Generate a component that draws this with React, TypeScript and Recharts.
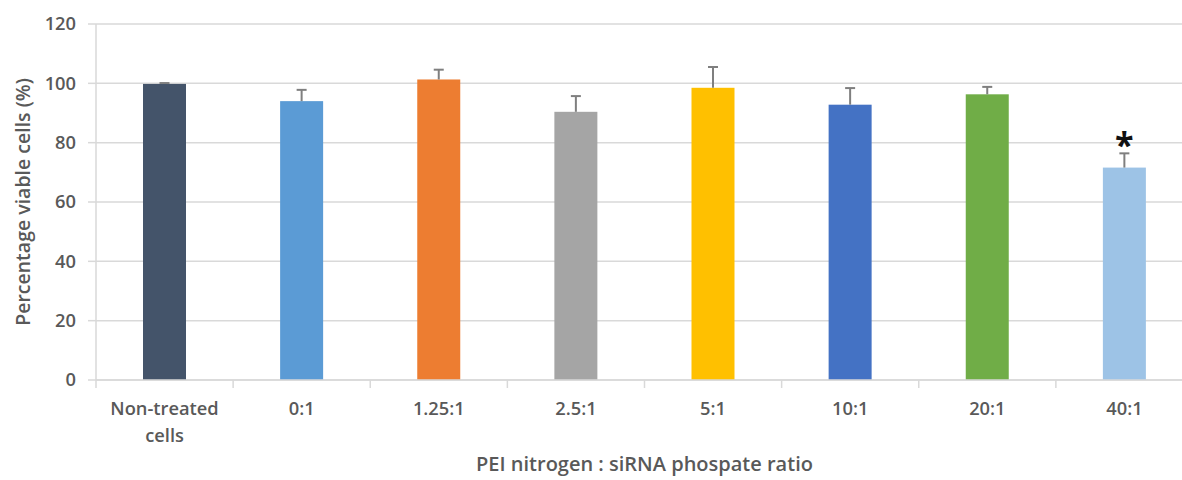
import React from "react";
import { Bar, BarChart, CartesianGrid, Cell, LabelList, XAxis, YAxis } from "recharts";

const ratios = ["Non-treated cells", "0:1", "1.25:1", "2.5:1", "5:1", "10:1", "20:1", "40:1"];
const viability = [99.8, 94.0, 101.3, 90.4, 98.5, 92.8, 96.3, 71.6];
const sdPlus = [0.3, 3.8, 3.3, 5.3, 7.0, 5.6, 2.5, 4.8];
const significance = ["", "", "", "", "", "", "", "*"];
const barColors = ["#44546A", "#5B9BD5", "#ED7D31", "#A5A5A5", "#FFC000", "#4472C4", "#70AD47", "#9DC3E6"];
const yTicks = [0, 20, 40, 60, 80, 100, 120];

const data = ratios.map((ratio, i) => ({
  ratio,
  viability: viability[i],
  sd: sdPlus[i],
  sig: significance[i],
}));

const TEXT = "#595959";
const FONT = "'Open Sans', sans-serif";
const CHART_W = 1193;
const PLOT_LEFT = 96;
const PLOT_RIGHT = 0;
const BAND = (CHART_W - PLOT_LEFT - PLOT_RIGHT) / ratios.length;

// bar plus an upper-only error whisker, scaled from the bar's own pixel height
function BarWithError(props: any) {
  const { x, y, width, height, fill, payload } = props;
  const pxPerUnit = height / payload.viability;
  const top = y - payload.sd * pxPerUnit;
  const cx = x + width / 2;
  return (
    <g>
      <rect x={x} y={y} width={width} height={height} fill={fill} />
      <line x1={cx} x2={cx} y1={y} y2={top} stroke="#7F7F7F" strokeWidth={2} />
      <line x1={cx - 5} x2={cx + 5} y1={top} y2={top} stroke="#7F7F7F" strokeWidth={2} />
    </g>
  );
}

// category label with the tick mark placed on the left band boundary
function CategoryTick(props: any) {
  const { x, y, payload, index } = props;
  const words = String(payload.value) === "Non-treated cells" ? ["Non-treated", "cells"] : [String(payload.value)];
  const left = x - BAND / 2;
  return (
    <g>
      <line x1={left} x2={left} y1={y - 8} y2={y} stroke="#D9D9D9" strokeWidth={1.5} />
      {index === ratios.length - 1 && (
        <line x1={left + BAND} x2={left + BAND} y1={y - 8} y2={y} stroke="#D9D9D9" strokeWidth={1.5} />
      )}
      {words.map((w, i) => (
        <text key={w} x={x} y={y + 27 + i * 27} textAnchor="middle" fill={TEXT} fontSize={18.3} fontWeight={600} fontFamily={FONT}>
          {w}
        </text>
      ))}
    </g>
  );
}

function SigMark(props: any) {
  const { x, y, width, value } = props;
  if (!value) return null;
  return (
    <text x={x + width / 2} y={y - 11} textAnchor="middle" fill="#111" fontSize={34} fontWeight={700} fontFamily={FONT}>
      {value}
    </text>
  );
}

export default function App() {
  return (
    <div style={{ position: "absolute", left: 0, top: 0, width: 1182, height: 480, overflow: "hidden", background: "#fff" }}>
      <BarChart width={CHART_W} height={480} data={data} margin={{ top: 24, right: PLOT_RIGHT, bottom: 0, left: 0 }} barSize={43}>
        <CartesianGrid vertical={false} stroke="#D9D9D9" strokeWidth={1.5} />
        <XAxis
          dataKey="ratio"
          interval={0}
          height={100}
          stroke="#D9D9D9"
          strokeWidth={1.5}
          tickLine={false}
          tick={<CategoryTick />}
          label={{ value: "PEI nitrogen : siRNA phospate ratio", position: "insideBottom", offset: 9, fill: TEXT, fontSize: 20, fontWeight: 600, fontFamily: FONT }}
        />
        <YAxis
          domain={[0, 120]}
          ticks={yTicks}
          width={PLOT_LEFT}
          stroke="#D9D9D9"
          strokeWidth={1.5}
          tickSize={8}
          tickMargin={12}
          tick={{ fill: TEXT, fontSize: 18.3, fontWeight: 600, fontFamily: FONT }}
          label={{ value: "Percentage viable cells (%)", angle: -90, position: "insideLeft", offset: 23, style: { textAnchor: "middle" }, fill: TEXT, fontSize: 19.5, fontWeight: 600, fontFamily: FONT }}
        />
        <Bar dataKey="viability" isAnimationActive={false} shape={<BarWithError />}>
          {data.map((d, i) => (
            <Cell key={d.ratio} fill={barColors[i]} />
          ))}
          <LabelList dataKey="sig" content={<SigMark />} />
        </Bar>
      </BarChart>
    </div>
  );
}
